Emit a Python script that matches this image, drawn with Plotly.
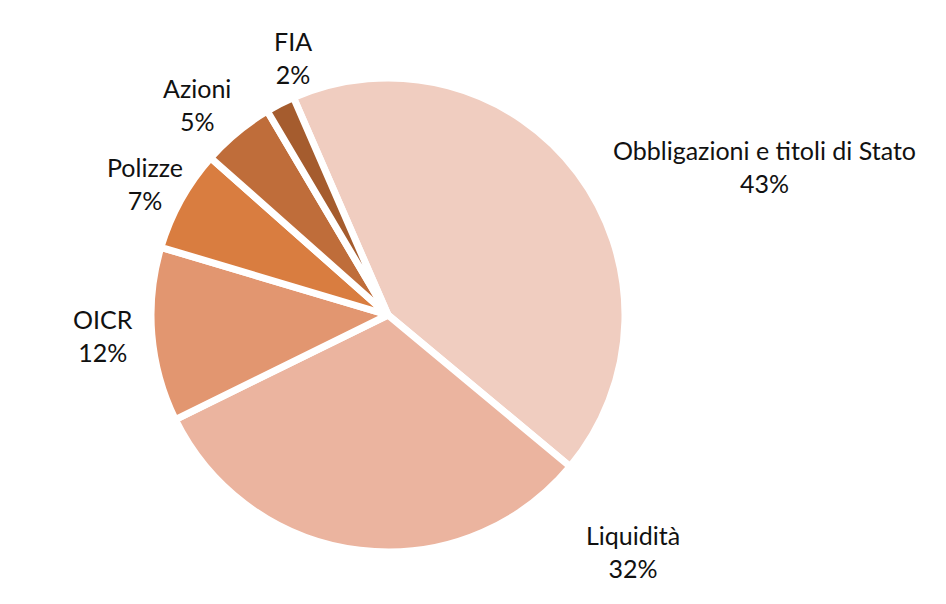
import plotly.graph_objects as go

# asset allocation shares (%)
labels = ['Obbligazioni e titoli di Stato', 'Liquidità', 'OICR', 'Polizze', 'Azioni', 'FIA']
values = [43, 32, 12, 7, 5, 2]
colors = ['#F0CDC0', '#EBB49F', '#E29670', '#D97D40', '#BF6D3A', '#A55C2E']

# label anchor points in pixels (x, y from top) - layout only
label_pos = [(764, 166), (633, 551), (103, 335), (145, 184), (197, 105), (293, 57)]

W, H = 946, 604
OFF = 8  # browser body margin

fig = go.Figure(go.Pie(
    labels=labels,
    values=values,
    sort=False,
    direction='clockwise',
    rotation=-23.5,
    marker=dict(colors=colors, line=dict(color='white', width=7)),
    textinfo='none',
    hoverinfo='label+percent',
    domain=dict(x=[(151 - OFF) / W, (625 - OFF) / W],
                y=[(H - 552 + OFF) / H, (H - 78 + OFF) / H]),
    showlegend=False,
))

for name, val, (px, py) in zip(labels, values, label_pos):
    fig.add_annotation(
        x=(px - OFF) / W, y=1 - (py - OFF) / H, xref='paper', yref='paper',
        text=f'{name}<br>{val}%', showarrow=False,
        xanchor='center', yanchor='middle', align='center',
        font=dict(family='Lato', size=25, color='#111111'),
    )

fig.update_layout(
    width=W, height=H,
    margin=dict(l=0, r=0, t=0, b=0),
    paper_bgcolor='white',
    plot_bgcolor='white',
)

fig.write_html('out.html')
